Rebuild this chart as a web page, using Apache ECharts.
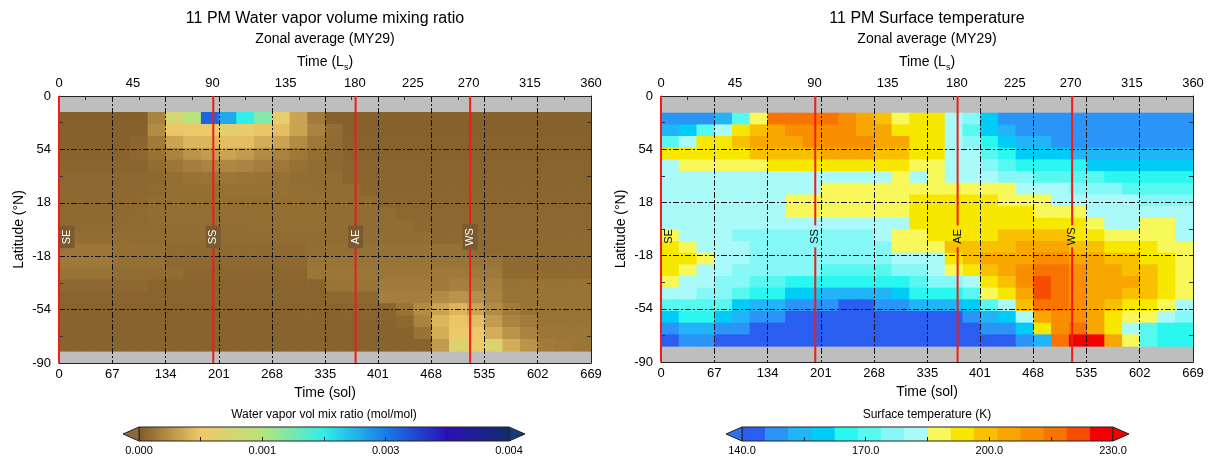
<!DOCTYPE html>
<html><head><meta charset="utf-8">
<script src="https://cdn.jsdelivr.net/npm/echarts@6/dist/echarts.min.js"></script>
<style>html,body{margin:0;padding:0;background:#fff}#c{width:1209px;height:456px}</style>
</head><body><div id="c"></div><script>
// ---------- axes / categories ----------
const solTicks = [0,67,134,201,268,335,401,468,535,602,669];
const solMinor = [33.5,100.5,167.5,234.5,301.5,368,434.5,501.5,568.5,635.5];
const lsTickLabels = ['0','45','90','135','180','225','270','315','360'];
const lsTickSols = [0,93,193,285,372,445,515,592,669];
const latTicks = [-90,-54,-18,18,54,90];
const latTickLabels = ['-90','-54','-18','18','54','0'];
const latMinor = [-72,-36,0,36,72];
const seasonNames = ['SE','SS','AE','WS'];
const seasonSols = [0,194,373,517];
// cell edges (sol) shared by both panels
const solEdges = [0,22.3,44.6,66.9,89.2,111.5,133.8,156.1,178.4,200.7,223,245.3,267.6,289.9,312.2,334.5,356.8,379.1,401.4,423.7,446,468.3,490.6,512.9,535.2,557.5,579.8,602.1,624.4,646.7,669];
// latitude edges of data rows (north to south)
const wvLatEdges = [79.2,71.1,63.1,55.0,47.0,38.9,30.9,22.8,14.8,6.7,-1.4,-9.4,-17.5,-25.5,-33.6,-41.6,-49.7,-57.7,-65.8,-73.8,-81.9];
const tsLatEdges = [78.7,70.8,62.9,55.0,47.1,39.2,31.3,23.4,15.5,7.6,-0.3,-8.1,-16.0,-23.9,-31.8,-39.7,-47.6,-55.5,-63.4,-71.3,-79.2];

// ---------- water vapor vmr, ppmv (1e-6 mol/mol), rows north->south, cols by sol ----------
const wvRows = [
[35,35,35,35,35,250,1000,1300,2800,2400,2000,1600,750,450,200,40,40,40,40,40,40,40,40,40,40,40,40,40,40,40],
[40,40,40,40,45,300,650,700,700,850,750,650,600,450,250,120,45,45,45,45,45,45,45,45,45,45,45,45,45,45],
[45,45,45,45,70,200,450,550,550,600,600,500,450,300,180,100,50,50,50,50,50,50,50,50,50,50,50,50,50,50],
[55,55,55,55,80,150,250,350,400,450,400,300,250,180,130,90,55,55,55,55,55,55,55,55,55,55,55,55,55,55],
[70,70,70,70,70,110,170,220,260,280,260,220,180,140,110,90,60,60,60,60,60,60,60,60,60,60,60,60,60,60],
[80,80,80,80,80,90,130,150,160,170,160,150,140,120,110,110,65,65,65,65,65,65,65,65,65,65,65,65,65,65],
[85,85,85,85,90,100,130,130,135,140,140,140,140,130,120,110,110,70,70,70,70,70,70,70,70,70,70,70,70,70],
[90,90,90,90,95,110,125,125,125,125,130,130,130,130,125,115,110,110,75,75,75,75,75,75,75,75,75,75,75,75],
[95,95,95,95,100,120,125,125,125,125,125,130,130,130,125,115,110,110,110,80,80,80,80,80,80,80,80,80,80,80],
[100,100,100,100,105,115,120,120,120,120,120,125,125,125,125,120,110,110,110,110,85,85,85,85,85,85,85,85,85,85],
[120,120,120,120,110,110,110,110,110,110,110,110,115,115,115,115,115,120,120,120,120,90,90,90,90,90,90,90,90,90],
[170,170,170,130,130,130,100,100,100,100,100,100,100,100,120,130,130,140,140,140,140,140,140,95,95,95,95,95,95,95],
[190,190,190,140,140,140,90,90,90,90,90,90,90,90,160,160,160,160,160,160,160,160,160,160,160,95,95,95,95,95],
[150,150,150,110,110,110,110,75,75,75,75,75,75,75,170,170,170,170,170,170,170,190,190,190,190,100,100,100,100,100],
[90,90,90,90,90,65,65,65,65,65,65,65,65,65,65,160,160,160,200,200,200,200,230,230,230,150,150,150,150,150],
[60,60,60,60,60,60,60,60,60,60,60,60,60,60,60,90,90,90,220,220,220,300,350,320,250,150,150,150,150,150],
[55,55,55,55,55,55,55,55,55,55,55,55,55,55,55,55,60,60,60,150,300,450,550,450,300,200,150,150,150,150],
[55,55,55,55,55,55,55,55,55,55,55,55,55,55,55,55,55,55,55,90,250,550,650,600,400,250,200,160,160,160],
[55,55,55,55,55,55,55,55,55,55,55,55,55,55,55,55,55,55,55,55,150,500,700,700,500,350,250,170,170,170],
[55,55,55,55,55,55,55,55,55,55,55,55,55,55,55,55,55,55,55,55,55,400,900,750,900,500,350,200,180,170]
];

// ---------- surface temperature, K, rows north->south ----------
const tsRows = [
[148,148,148,154,171,188,216,216,216,216,210,205,199,188,193,193,182,177,160,148,148,148,148,148,148,148,148,148,148,148],
[154,160,171,182,193,199,205,210,210,210,210,205,205,193,193,193,182,171,160,154,148,148,148,148,148,148,148,148,148,148],
[171,182,193,193,199,205,205,205,210,210,210,210,205,205,193,193,182,177,165,160,154,154,148,148,148,148,148,148,148,148],
[193,193,193,193,193,199,199,199,199,205,205,205,199,199,193,193,182,182,171,165,160,160,160,154,154,154,154,154,154,154],
[182,188,188,188,188,188,193,193,193,193,193,193,193,193,188,188,182,182,177,171,165,165,165,165,160,160,160,160,160,160],
[182,182,182,182,182,182,182,182,182,182,182,182,182,188,182,188,182,182,182,177,177,171,171,171,171,165,165,165,165,165],
[182,182,182,182,182,182,182,182,182,188,188,188,188,188,188,188,188,188,188,188,182,182,182,177,177,177,171,171,171,171],
[182,182,182,182,182,182,182,188,188,188,188,188,188,188,193,193,193,193,193,188,188,188,182,182,182,182,182,177,177,177],
[182,182,182,182,182,182,182,188,188,188,188,188,188,188,193,193,193,193,193,193,193,188,188,188,182,182,182,182,182,182],
[182,182,182,182,182,182,182,182,182,182,182,182,182,182,193,193,193,193,193,193,193,193,193,193,188,182,182,188,188,182],
[188,182,182,182,177,177,177,177,177,177,177,177,182,188,188,193,193,193,193,199,199,199,199,193,193,188,188,188,188,182],
[193,188,182,182,182,177,177,177,177,177,177,177,177,188,188,188,199,199,199,199,205,205,205,199,199,193,193,193,188,188],
[193,193,188,182,182,177,177,177,177,177,177,177,177,182,182,182,193,199,205,205,205,210,210,205,205,199,199,193,193,188],
[193,188,182,182,177,177,177,177,177,171,171,171,171,177,177,182,188,193,199,205,210,216,216,210,205,205,199,199,193,188],
[188,182,182,177,177,171,171,165,165,165,165,165,165,165,171,177,177,182,193,199,210,222,216,210,205,205,205,199,193,188],
[182,182,177,177,171,165,165,160,160,154,154,154,154,160,165,165,165,171,188,193,205,222,216,210,205,205,199,199,193,188],
[171,171,171,171,160,154,154,148,148,148,143,143,148,148,154,154,154,160,171,182,199,216,216,210,205,199,193,193,188,182],
[160,165,165,160,154,148,148,143,143,143,143,143,143,143,143,143,143,148,154,160,182,205,210,210,205,193,188,188,182,177],
[148,154,154,148,148,143,143,143,143,143,143,143,143,143,143,143,143,143,148,148,160,193,210,216,205,193,182,171,165,165],
[143,148,148,143,143,143,143,143,143,143,143,143,143,143,143,143,143,143,143,143,148,154,216,227,227,205,188,171,165,165]
];

// ---------- colour scales ----------
const wvColors = ['#7e5a28','#f0c868','#b8e47c','#30eee8','#1a7ae8','#2a10b4','#0f2f6c'];
const wvUnder = '#8a6a3a', wvOver = '#143a78';
const wvRange = [0, 4000];
const wvCbarTicks = [0, 1333.3, 2666.7, 4000];
const wvCbarLabels = ['0.000','0.001','0.003','0.004'];
const wvCbarMinor = [666.7, 1333.3, 2000, 2666.7, 3333.3];
const tsLevels = [140,145.625,151.25,156.875,162.5,168.125,173.75,179.375,185,190.625,196.25,201.875,207.5,213.125,218.75,224.375,230];
const tsColors = ['#2a5ef0','#2a94f8','#22b4f8','#00ccf8','#2af8f0','#56f8f0','#86f8f8','#aafafa','#f8f85a','#f8e800','#f8c000','#f8a600','#f88e00','#f87400','#f84c00','#f40000'];
const tsUnder = '#3070e8', tsOver = '#f40000';
const tsCbarTicks = [140,170,200,230];
const tsCbarLabels = ['140.0','170.0','200.0','230.0'];
const tsCbarMinor = [155,170,185,200,215];

const FONT = 'Liberation Sans';

function buildCells(rows, latEdges) {
  const out = [];
  rows.forEach((row, j) => row.forEach((v, i) => {
    out.push([solEdges[i], solEdges[i + 1], latEdges[j], latEdges[j + 1], v]);
  }));
  return out;
}
function cellRender(params, api) {
  const p0 = api.coord([api.value(0), api.value(2)]);
  const p1 = api.coord([api.value(1), api.value(3)]);
  return {
    type: 'rect',
    shape: { x: Math.min(p0[0], p1[0]), y: Math.min(p0[1], p1[1]),
             width: Math.abs(p1[0] - p0[0]) + 0.6, height: Math.abs(p1[1] - p0[1]) + 0.6 },
    style: { fill: api.visual('color') }
  };
}
function seasonRenderer(textColor, boxColor) {
  return function (params, api) {
    const sol = api.value(0);
    const pTop = api.coord([sol, 90]);
    const pBot = api.coord([sol, -90]);
    const yMid = api.coord([sol, -5])[1];
    const xLeft = api.coord([0, 0])[0];
    const x = pTop[0];
    const lx = Math.max(x, xLeft + 8);
    const ls = { stroke: '#f01c1c', lineWidth: 2 };
    const kids = [];
    if (lx === x && !boxColor) {
      kids.push({ type: 'line', shape: { x1: x, y1: pTop[1], x2: x, y2: yMid - 11 }, style: ls });
      kids.push({ type: 'line', shape: { x1: x, y1: yMid + 11, x2: x, y2: pBot[1] }, style: ls });
    } else {
      kids.push({ type: 'line', shape: { x1: x, y1: pTop[1], x2: x, y2: pBot[1] }, style: ls });
    }
    kids.push({ type: 'text', x: lx, y: yMid, rotation: Math.PI / 2,
      style: { text: seasonNames[params.dataIndex], fill: textColor, font: '11px "' + FONT + '"',
               align: 'center', verticalAlign: 'middle',
               backgroundColor: boxColor || 'transparent', padding: boxColor ? [2, 4] : 0 } });
    return { type: 'group', children: kids };
  };
}
function triangles(x0, x1, yt, yb, cUnder, cOver) {
  const ym = (yt + yb) / 2;
  return [
    { type: 'polygon', shape: { points: [[x0, yt], [x0, yb], [x0 - 16, ym]] }, style: { fill: cUnder, stroke: '#222', lineWidth: 1 } },
    { type: 'polygon', shape: { points: [[x1, yt], [x1, yb], [x1 + 16, ym]] }, style: { fill: cOver, stroke: '#222', lineWidth: 1 } }
  ];
}
function wvBarRender(params, api) {
  const a = api.coord([api.value(0), 0]), b = api.coord([api.value(1), 1]);
  const stops = wvColors.map((c, i) => ({ offset: i / (wvColors.length - 1), color: c }));
  return { type: 'group', children: [
    { type: 'rect', shape: { x: a[0], y: b[1], width: b[0] - a[0], height: a[1] - b[1] },
      style: { fill: new echarts.graphic.LinearGradient(0, 0, 1, 0, stops), stroke: '#222', lineWidth: 1 } }
  ].concat(triangles(a[0], b[0], b[1], a[1], wvUnder, wvOver)) };
}
function tsBarRender(params, api) {
  const yb = api.coord([tsLevels[0], 0])[1], yt = api.coord([tsLevels[0], 1])[1];
  const kids = [];
  for (let i = 0; i < tsColors.length; i++) {
    const xa = api.coord([tsLevels[i], 0])[0], xb = api.coord([tsLevels[i + 1], 0])[0];
    kids.push({ type: 'rect', shape: { x: xa, y: yt, width: xb - xa + 0.5, height: yb - yt }, style: { fill: tsColors[i] } });
  }
  const x0 = api.coord([tsLevels[0], 0])[0], x1 = api.coord([tsLevels[tsLevels.length - 1], 0])[0];
  kids.push({ type: 'rect', shape: { x: x0, y: yt, width: x1 - x0, height: yb - yt }, style: { fill: 'none', stroke: '#222', lineWidth: 1 } });
  return { type: 'group', children: kids.concat(triangles(x0, x1, yt, yb, tsUnder, tsOver)) };
}

const frame = { show: true, onZero: false, lineStyle: { color: '#222', width: 1 } };
const noLine = { show: false, onZero: false };
const gridLine = { show: true, lineStyle: { color: '#111', width: 1, type: [6, 2, 2, 2] } };
const lbl = { color: '#000', fontFamily: FONT };

function bottomAxis(g) {
  return { type: 'value', gridIndex: g, position: 'bottom', min: 0, max: 669, interval: 66.9, z: 5,
    name: 'Time (sol)', nameLocation: 'middle', nameGap: 23,
    nameTextStyle: Object.assign({ fontSize: 14 }, lbl),
    axisLine: frame, axisTick: { show: false, customValues: solTicks },
    axisLabel: Object.assign({ customValues: solTicks, formatter: v => String(Math.round(v)), fontSize: 13, margin: 5 }, lbl),
    splitLine: gridLine };
}
function topAxis(g) {
  return { type: 'value', gridIndex: g, position: 'top', min: 0, max: 669, z: 5,
    name: '{n|Time (L}{s|s}{n|)}', nameLocation: 'middle', nameGap: 24,
    nameTextStyle: Object.assign({ fontSize: 14, padding: [0, 0, -6, 0], rich: {
      n: { fontSize: 14, lineHeight: 20, fontFamily: FONT, color: '#000' },
      s: { fontSize: 9, lineHeight: 20, verticalAlign: 'bottom', fontFamily: FONT, color: '#000' } } }, lbl),
    axisLine: frame,
    axisTick: { show: true, inside: true, length: 4, customValues: solMinor, lineStyle: { color: '#333' } },
    axisLabel: Object.assign({ customValues: lsTickSols, formatter: v => lsTickLabels[lsTickSols.indexOf(v)], fontSize: 13, margin: 6 }, lbl),
    splitLine: { show: false } };
}
function leftAxis(g) {
  return { type: 'value', gridIndex: g, position: 'left', min: -90, max: 90, z: 5,
    name: 'Latitude (°N)', nameLocation: 'middle', nameGap: 33, nameRotate: 90,
    nameTextStyle: Object.assign({ fontSize: 14 }, lbl),
    axisLine: frame, axisTick: { show: false, customValues: latTicks },
    axisLabel: Object.assign({ customValues: latTicks, formatter: v => latTickLabels[latTicks.indexOf(v)], fontSize: 13, margin: 8, padding: [0, 0, 6, 0] }, lbl),
    splitLine: gridLine };
}
function sideAxis(g, pos, line) {
  return { type: 'value', gridIndex: g, position: pos, min: -90, max: 90, z: 5,
    axisLine: line ? frame : noLine,
    axisTick: { show: true, inside: true, length: 4, customValues: latMinor, lineStyle: { color: '#333' } },
    axisLabel: { show: false }, splitLine: { show: false } };
}
function cbarAxis(g, min, max, ticks, labels, minor) {
  return { type: 'value', gridIndex: g, position: 'bottom', min: min, max: max, z: 5,
    axisLine: noLine,
    axisTick: { show: true, inside: true, length: 4, customValues: minor, lineStyle: { color: '#222' } },
    axisLabel: Object.assign({ customValues: ticks, formatter: v => labels[ticks.indexOf(v)], fontSize: 11, margin: 4 }, lbl),
    splitLine: { show: false } };
}
function titleAt(x, top, text, sub, size) {
  return { text: text, subtext: sub || '', left: x, top: top, textAlign: 'center', padding: 0, itemGap: 3,
    textStyle: { fontFamily: FONT, fontSize: size, fontWeight: 'normal', color: '#000', lineHeight: size + 2 },
    subtextStyle: { fontFamily: FONT, fontSize: 14, color: '#000', lineHeight: 16 } };
}

const option = {
  animation: false,
  backgroundColor: '#ffffff',
  textStyle: { fontFamily: FONT },
  title: [
    titleAt(325, 10, '11 PM Water vapor volume mixing ratio', 'Zonal average (MY29)', 16),
    titleAt(927, 10, '11 PM Surface temperature', 'Zonal average (MY29)', 16),
    titleAt(324, 408, 'Water vapor vol mix ratio (mol/mol)', '', 12),
    titleAt(927, 408, 'Surface temperature (K)', '', 12)
  ],
  grid: [
    { left: 59, top: 96, width: 532, height: 267, show: true, backgroundColor: '#bebebe', borderWidth: 0 },
    { left: 661, top: 96, width: 532, height: 266, show: true, backgroundColor: '#bebebe', borderWidth: 0 },
    { left: 139, top: 427, width: 370, height: 14 },
    { left: 742, top: 427, width: 371, height: 14 }
  ],
  xAxis: [
    bottomAxis(0), topAxis(0), bottomAxis(1), topAxis(1),
    cbarAxis(2, wvRange[0], wvRange[1], wvCbarTicks, wvCbarLabels, wvCbarMinor),
    cbarAxis(3, tsLevels[0], tsLevels[tsLevels.length - 1], tsCbarTicks, tsCbarLabels, tsCbarMinor)
  ],
  yAxis: [
    leftAxis(0), sideAxis(0, 'right', true), sideAxis(0, 'left', false),
    leftAxis(1), sideAxis(1, 'right', true), sideAxis(1, 'left', false),
    { type: 'value', gridIndex: 2, min: 0, max: 1, show: false },
    { type: 'value', gridIndex: 3, min: 0, max: 1, show: false }
  ],
  visualMap: [
    { type: 'continuous', show: false, seriesIndex: 0, dimension: 4, min: wvRange[0], max: wvRange[1], inRange: { color: wvColors } },
    { type: 'piecewise', show: false, seriesIndex: 2, dimension: 4,
      pieces: tsColors.map((c, i) => (i === tsColors.length - 1
        ? { gte: tsLevels[i], lte: tsLevels[i + 1], color: c }
        : { gte: tsLevels[i], lt: tsLevels[i + 1], color: c })) }
  ],
  series: [
    { type: 'custom', name: 'wv', xAxisIndex: 0, yAxisIndex: 0, z: 2, silent: true,
      dimensions: ['s0', 's1', 'l0', 'l1', 'v'], encode: { x: [0, 1], y: [2, 3] },
      renderItem: cellRender, data: buildCells(wvRows, wvLatEdges) },
    { type: 'custom', name: 'wvSeasons', xAxisIndex: 0, yAxisIndex: 0, z: 10, silent: true,
      encode: { x: 0 }, renderItem: seasonRenderer('#ffffff', '#7a5a30'), data: seasonSols.map(s => [s]) },
    { type: 'custom', name: 'ts', xAxisIndex: 2, yAxisIndex: 3, z: 2, silent: true,
      dimensions: ['s0', 's1', 'l0', 'l1', 'v'], encode: { x: [0, 1], y: [2, 3] },
      renderItem: cellRender, data: buildCells(tsRows, tsLatEdges) },
    { type: 'custom', name: 'tsSeasons', xAxisIndex: 2, yAxisIndex: 3, z: 10, silent: true,
      encode: { x: 0 }, renderItem: seasonRenderer('#000000', null), data: seasonSols.map(s => [s]) },
    { type: 'custom', name: 'wvBar', xAxisIndex: 4, yAxisIndex: 6, z: 2, silent: true,
      encode: { x: [0, 1] }, renderItem: wvBarRender, data: [[wvRange[0], wvRange[1]]] },
    { type: 'custom', name: 'tsBar', xAxisIndex: 5, yAxisIndex: 7, z: 2, silent: true,
      encode: { x: [0, 1] }, renderItem: tsBarRender, data: [[tsLevels[0], tsLevels[tsLevels.length - 1]]] }
  ]
};
const chart = echarts.init(document.getElementById('c'), null, { renderer: 'canvas' });
chart.setOption(option);
</script></body></html>
